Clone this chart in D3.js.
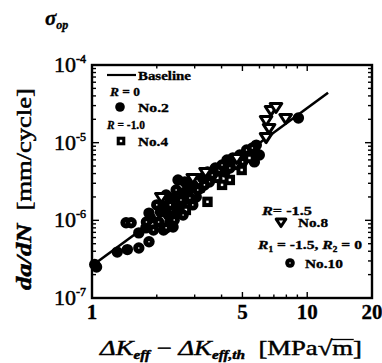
<!DOCTYPE html>
<html><head><meta charset="utf-8">
<script src="https://cdn.jsdelivr.net/npm/d3@7"></script>
<style>body{margin:0;background:#fff} text{white-space:pre}</style>
</head><body>
<svg id="c" width="382" height="363"></svg>
<script>
// ---- data ----
const xTickValues = [1, 5, 10, 20];
const xTickLabels = ["1", "5", "10", "20"];
const yTickValues = [1e-7, 1e-6, 1e-5, 1e-4];
const yTickExps = ["-7", "-6", "-5", "-4"];

const baselineX = [1, 12.5];
const baselineY = [2.6e-7, 4.4e-5];

// No.2 (R = 0) filled circles
const no2X = [1.05,1.31,1.46,1.65,1.78,1.84,2.15,2.38,2.51,2.70,5.68,5.99,9.10,4.96,2.08,2.21,2.26,2.38,2.51,2.65,2.79,2.94,3.26,3.44,3.74,4.15,4.24,4.86,5.80,1.87,1.03,2.30,2.45,2.60,2.20,2.75,3.05,3.20];
const no2Y = [2.5e-7,3.9e-7,4.2e-7,6.9e-7,8.0e-7,1.24e-6,7.5e-7,8.2e-7,3.31e-6,3.12e-6,5.65e-6,6.95e-6,2.08e-5,6.5e-6,1.28e-6,2.12e-6,1.17e-6,1.94e-6,1.45e-6,2.25e-6,2.61e-6,2.86e-6,3.52e-6,4.2e-6,4.72e-6,4.2e-6,5.99e-6,6.95e-6,9.3e-6,1.07e-6,2.7e-7,9.5e-7,1.2e-6,1.6e-6,1.6e-6,1.9e-6,2.0e-6,2.6e-6];
// No.4 (R = -1.0) squares
const no4X = [2.73,3.0,3.82,4.71,5.39,3.44,4.96,4.02,4.37];
const no4Y = [1.36e-6,2.25e-6,3.52e-6,5.16e-6,6.35e-6,1.73e-6,4.45e-6,2.86e-6,3.31e-6];
// No.10 (R1 = -1.5, R2 = 0) circles with dot
const no10X = [1.44,1.52,1.79,1.93,2.04,2.21,2.41,2.65,2.94,3.10,3.51,3.90,4.51,5.23,5.56,2.0,2.15,2.31,2.46,2.59,2.85,3.33,3.62,4.02,4.37,5.01,1.65,1.84];
const no10Y = [9.3e-7,9.3e-7,9.5e-7,7.5e-7,9.5e-7,8.0e-7,1.01e-6,1.17e-6,1.58e-6,2.46e-6,3.12e-6,4.45e-6,6.35e-6,8.05e-6,8.55e-6,1.58e-6,1.83e-6,1.58e-6,2.46e-6,1.83e-6,1.94e-6,2.86e-6,3.84e-6,5.16e-6,4.72e-6,5.65e-6,4.4e-7,5.3e-7];
// No.8 (R = -1.5) inverted triangles
const no8X = [2.10,3.37,2.94,4.71,6.44,6.79,7.16,7.94,6.65,6.44];
const no8Y = [2.0e-6,4.2e-6,3.52e-6,6.35e-6,1.96e-5,2.64e-5,2.88e-5,2.08e-5,1.55e-5,1.18e-5];

// ---- layout ----
const FONT = "'Liberation Serif','Times New Roman',serif";
const L = 92, R = 372, T = 65, B = 298;
const svg = d3.select("#c");
const x = d3.scaleLog().domain([1, 20]).range([L, R]);
const y = d3.scaleLog().domain([1e-7, 1e-4]).range([B, T]);

function rich(parent, pieces, px, py, opt = {}) {
  const g = parent.append("g");
  let cx = 0;
  pieces.forEach(p => {
    const t = g.append("text").attr("x", cx).attr("y", p.dy || 0)
      .attr("font-family", p.family || FONT).attr("font-size", p.size)
      .attr("font-style", p.italic ? "italic" : "normal")
      .attr("font-weight", p.bold ? "bold" : "normal")
      .attr("fill", "#000").attr("stroke", "#000").attr("stroke-width", opt.sw == null ? 0.35 : opt.sw)
      .text(p.t);
    const w = t.node().getComputedTextLength();
    p.x0 = cx; p.w = w;
    cx += w + (p.gap || 0);
  });
  const sx = opt.width ? opt.width / cx : 1;
  const tx = opt.anchor === "middle" ? -cx / 2 : 0;
  g.attr("transform", `translate(${px},${py}) rotate(${opt.rotate || 0}) scale(${sx},1) translate(${tx},0)`);
  return { g, pieces, total: cx };
}

// ---- ticks ----
const tickG = svg.append("g").attr("stroke", "#000").attr("stroke-width", 1.4);
const isMajorX = v => v === 1 || v === 5 || v === 10 || v === 20;
x.ticks().forEach(v => {
  const len = isMajorX(v) ? 6 : 3.5;
  tickG.append("line").attr("x1", x(v)).attr("x2", x(v)).attr("y1", B).attr("y2", B - len);
  tickG.append("line").attr("x1", x(v)).attr("x2", x(v)).attr("y1", T).attr("y2", T + len);
});
const isMajorY = v => Math.abs(Math.log10(v) - Math.round(Math.log10(v))) < 1e-6;
y.ticks().forEach(v => {
  const len = isMajorY(v) ? 7 : 4;
  tickG.append("line").attr("x1", L).attr("x2", L + len).attr("y1", y(v)).attr("y2", y(v));
  tickG.append("line").attr("x1", R).attr("x2", R - len).attr("y1", y(v)).attr("y2", y(v));
});

// frame
svg.append("rect").attr("x", L).attr("y", T).attr("width", R - L).attr("height", B - T)
  .attr("fill", "none").attr("stroke", "#000").attr("stroke-width", 2.4);

// tick labels
xTickValues.forEach((v, i) => {
  svg.append("text").attr("x", x(v)).attr("y", 319).attr("text-anchor", "middle")
    .attr("font-family", FONT).attr("font-size", 21).attr("font-weight", "bold")
    .attr("stroke", "#000").attr("stroke-width", 0.3)
    .text(xTickLabels[i]);
});
yTickValues.forEach((v, i) => {
  const t = svg.append("text").attr("x", 86).attr("y", y(v) + 7).attr("text-anchor", "end")
    .attr("font-family", FONT).attr("font-size", 22)
    .attr("stroke", "#000").attr("stroke-width", 0.5);
  t.append("tspan").text("10");
  t.append("tspan").attr("dy", -9).attr("font-size", 12).text(yTickExps[i]);
});

// ---- baseline ----
const line = d3.line().x(d => x(d[0])).y(d => y(d[1]));
svg.append("path").datum(baselineX.map((v, i) => [v, baselineY[i]]))
  .attr("d", line).attr("fill", "none").attr("stroke", "#000").attr("stroke-width", 2.6);

// ---- markers ----
const pts = (xs, ys) => xs.map((v, i) => ({ x: v, y: ys[i] }));
const mg = svg.append("g");
function circle(g, cx, cy, dot, r = 5.7) {
  g.append("circle").attr("cx", cx).attr("cy", cy).attr("r", r).attr("fill", "#000");
  if (dot) g.append("circle").attr("cx", cx).attr("cy", cy).attr("r", 0.8).attr("fill", "#fff");
}
function square(g, cx, cy, s = 5.2) {
  g.append("rect").attr("x", cx - s).attr("y", cy - s).attr("width", 2 * s).attr("height", 2 * s).attr("fill", "#000");
  g.append("rect").attr("x", cx - 1.2).attr("y", cy - 1.2).attr("width", 2.4).attr("height", 2.4).attr("fill", "#fff");
}
function tri(g, cx, cy, s = 5.8) {
  g.append("path").attr("d", `M${cx - s},${cy - s * 0.6}L${cx + s},${cy - s * 0.6}L${cx},${cy + s * 0.95}Z`)
    .attr("fill", "#fff").attr("stroke", "#000").attr("stroke-width", 3).attr("stroke-linejoin", "round");
}
pts(no2X, no2Y).forEach(d => circle(mg, x(d.x), y(d.y), false));
pts(no4X, no4Y).forEach(d => square(mg, x(d.x), y(d.y)));
pts(no10X, no10Y).forEach(d => circle(mg, x(d.x), y(d.y), true));
pts(no8X, no8Y).forEach(d => tri(mg, x(d.x), y(d.y)));

// ---- legend ----
const lg = svg.append("g");
lg.append("line").attr("x1", 107).attr("x2", 136).attr("y1", 75).attr("y2", 75)
  .attr("stroke", "#000").attr("stroke-width", 2.2);
rich(lg, [{ t: "Baseline", size: 13.5, bold: true }], 138, 80, { width: 53 });
rich(lg, [{ t: "R", size: 13.5, bold: true, italic: true }, { t: " = 0", size: 13.5, bold: true }], 110, 96, { width: 30 });
circle(lg, 120, 107, false, 4.8);
rich(lg, [{ t: "No.2", size: 13.5, bold: true }], 138, 112, { width: 31 });
rich(lg, [{ t: "R", size: 13.5, bold: true, italic: true }, { t: " = -1.0", size: 13.5, bold: true }], 107, 129, { width: 38 });
square(lg, 121, 141, 4.3);
rich(lg, [{ t: "No.4", size: 13.5, bold: true }], 138, 146, { width: 30 });
rich(lg, [{ t: "R", size: 13.5, bold: true, italic: true }, { t: "= -1.5", size: 13.5, bold: true }], 262, 215, { width: 50 });
tri(lg, 281, 222, 4.8);
rich(lg, [{ t: "No.8", size: 13.5, bold: true }], 298, 227, { width: 30 });
rich(lg, [
  { t: "R", size: 13.5, bold: true, italic: true },
  { t: "1", size: 8, bold: true, dy: 3 },
  { t: " = -1.5, ", size: 13.5, bold: true },
  { t: "R", size: 13.5, bold: true, italic: true },
  { t: "2", size: 8, bold: true, dy: 3 },
  { t: " = 0", size: 13.5, bold: true }
], 258, 249, { width: 104 });
circle(lg, 290, 263, true, 4.8);
rich(lg, [{ t: "No.10", size: 13.5, bold: true }], 305, 268, { width: 38 });

// ---- titles ----
rich(svg, [
  { t: "σ", size: 21, italic: true, bold: true },
  { t: "op", size: 12, italic: true, bold: true, dy: 4 }
], 45, 25, {});

rich(svg, [
  { t: "da/dN", size: 22, italic: true, bold: true },
  { t: "  [mm/cycle]", size: 22 }
], 31, 189, { rotate: -90, anchor: "middle", width: 202, sw: 0.5 });

const xt = rich(svg, [
  { t: "ΔK", size: 21, italic: true },
  { t: "eff", size: 12, italic: true, bold: true, dy: 4 },
  { t: " − ", size: 21 },
  { t: "ΔK", size: 21, italic: true },
  { t: "eff,th", size: 12, italic: true, bold: true, dy: 4 },
  { t: "  [MPa", size: 21 },
  { t: "√", size: 21 },
  { t: "m", size: 21 },
  { t: "]", size: 21 }
], 100, 355, { width: 262, sw: 0.45 });
const sq = xt.pieces[6], mm = xt.pieces[7];
xt.g.append("line").attr("x1", sq.x0 + sq.w - 1).attr("x2", mm.x0 + mm.w + 0.5)
  .attr("y1", -15.5).attr("y2", -15.5).attr("stroke", "#000").attr("stroke-width", 1.3);
</script>
</body></html>
